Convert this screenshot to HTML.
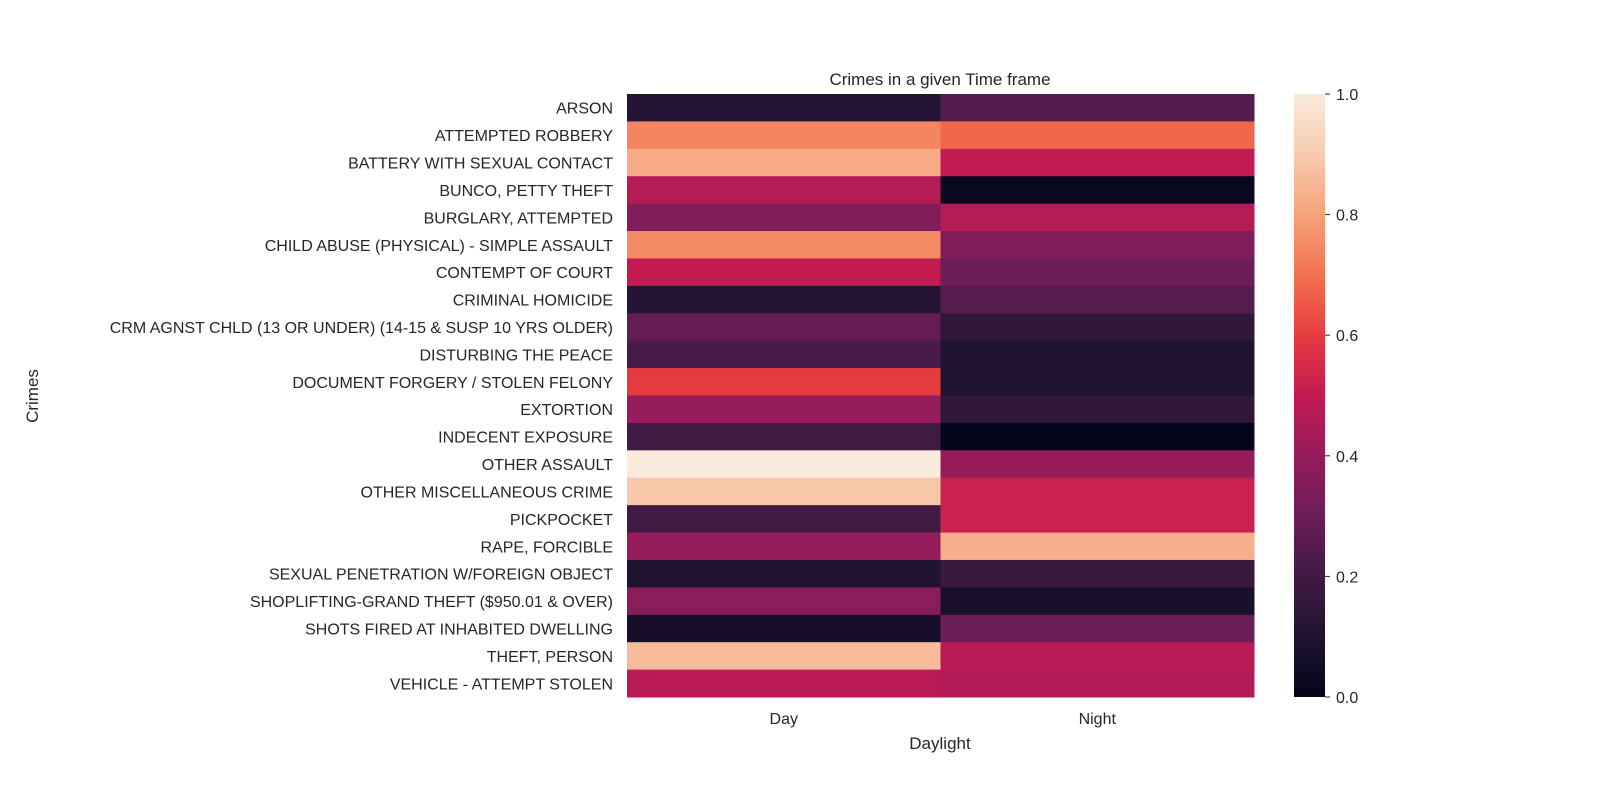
<!DOCTYPE html>
<html><head><meta charset="utf-8"><style>
body{margin:0;background:#fff;}
svg text{font-family:"Liberation Sans",Arial,sans-serif;fill:#262626;}
</style></head><body>
<svg id="chart" width="1600" height="800" viewBox="0 0 1600 800">
<defs>
<linearGradient id="cbgrad" x1="0" y1="1" x2="0" y2="0">
<stop offset="0" stop-color="#03051A"/><stop offset="0.1" stop-color="#1F1330"/><stop offset="0.2" stop-color="#411A44"/>
<stop offset="0.3" stop-color="#6B1E57"/><stop offset="0.4" stop-color="#961C5B"/><stop offset="0.5" stop-color="#C31A52"/>
<stop offset="0.6" stop-color="#E63C40"/><stop offset="0.7" stop-color="#F37250"/><stop offset="0.8" stop-color="#F6A27B"/>
<stop offset="0.9" stop-color="#F8CBAE"/><stop offset="1" stop-color="#FAEBDD"/>
</linearGradient>
</defs>
<text x="940" y="85" text-anchor="middle" font-size="17">Crimes in a given Time frame</text>
<g id="cells"></g>
<g id="ylabels"></g>
<g id="xlabels"></g>
<text x="940" y="749" text-anchor="middle" font-size="17">Daylight</text>
<text transform="translate(38,396) rotate(-90)" text-anchor="middle" font-size="17">Crimes</text>
<rect x="1294" y="94" width="31" height="603" fill="url(#cbgrad)"/>
<g id="cbticks"></g>
</svg>
<script>
const categories=["ARSON","ATTEMPTED ROBBERY","BATTERY WITH SEXUAL CONTACT","BUNCO, PETTY THEFT","BURGLARY, ATTEMPTED","CHILD ABUSE (PHYSICAL) - SIMPLE ASSAULT","CONTEMPT OF COURT","CRIMINAL HOMICIDE","CRM AGNST CHLD (13 OR UNDER) (14-15 & SUSP 10 YRS OLDER)","DISTURBING THE PEACE","DOCUMENT FORGERY / STOLEN FELONY","EXTORTION","INDECENT EXPOSURE","OTHER ASSAULT","OTHER MISCELLANEOUS CRIME","PICKPOCKET","RAPE, FORCIBLE","SEXUAL PENETRATION W/FOREIGN OBJECT","SHOPLIFTING-GRAND THEFT ($950.01 & OVER)","SHOTS FIRED AT INHABITED DWELLING","THEFT, PERSON","VEHICLE - ATTEMPT STOLEN"];
const columns=["Day","Night"];
const dayValues=[0.12,0.74,0.82,0.47,0.35,0.75,0.50,0.12,0.28,0.22,0.60,0.40,0.20,1.0,0.89,0.20,0.40,0.10,0.37,0.07,0.86,0.48];
const nightValues=[0.24,0.68,0.50,0.02,0.47,0.35,0.30,0.25,0.15,0.10,0.10,0.15,0.0,0.40,0.52,0.52,0.83,0.18,0.08,0.30,0.48,0.46];
const cbTicks=[0,0.2,0.4,0.6,0.8,1.0];
const stops=[[3,5,26],[31,19,48],[65,26,68],[107,30,87],[150,28,91],[195,26,82],[230,60,64],[243,114,80],[246,162,123],[248,203,174],[250,235,221]];
function cmap(v){v=Math.max(0,Math.min(1,v));const t=v*10,i=Math.min(9,Math.floor(t)),f=t-i;const a=stops[i],b=stops[i+1];return `rgb(${a.map((c,k)=>Math.round(c+(b[k]-c)*f)).join(',')})`;}
const X0=627,X1=1254,Y0=94,Y1=697;
const cw=(X1-X0)/columns.length,rh=(Y1-Y0)/categories.length;
const xs=j=>X0+j*cw, ys=i=>Y0+i*rh;
const NS="http://www.w3.org/2000/svg";
const cells=document.getElementById('cells'),yl=document.getElementById('ylabels'),xl=document.getElementById('xlabels'),cb=document.getElementById('cbticks');
const series=[dayValues,nightValues];
categories.forEach((c,i)=>{
 series.forEach((vals,j)=>{
  const r=document.createElementNS(NS,'rect');
  r.setAttribute('x',xs(j));r.setAttribute('y',ys(i));r.setAttribute('width',cw+0.5);r.setAttribute('height',rh+0.5);
  r.setAttribute('fill',cmap(vals[i]));
  
  
  cells.appendChild(r);
 });
 const t=document.createElementNS(NS,'text');
 t.setAttribute('x',613);t.setAttribute('y',ys(i)+rh/2+6);t.setAttribute('text-anchor','end');t.setAttribute('font-size','16');
 t.textContent=c;
 
 
 yl.appendChild(t);
});
columns.forEach((c,j)=>{
 const t=document.createElementNS(NS,'text');
 t.setAttribute('x',xs(j)+cw/2);t.setAttribute('y',724);t.setAttribute('text-anchor','middle');t.setAttribute('font-size','16');
 t.textContent=c;
 
 
 xl.appendChild(t);
});
cbTicks.forEach(v=>{
 const y=697-v*603;
 const l=document.createElementNS(NS,'line');
 l.setAttribute('x1',1325);l.setAttribute('x2',1330);l.setAttribute('y1',y);l.setAttribute('y2',y);l.setAttribute('stroke','#262626');
 
 
 cb.appendChild(l);
 const t=document.createElementNS(NS,'text');
 t.setAttribute('x',1336);t.setAttribute('y',y+6);t.setAttribute('font-size','16');
 t.textContent=v.toFixed(1);
 
 
 cb.appendChild(t);
});
</script>
</body></html>
